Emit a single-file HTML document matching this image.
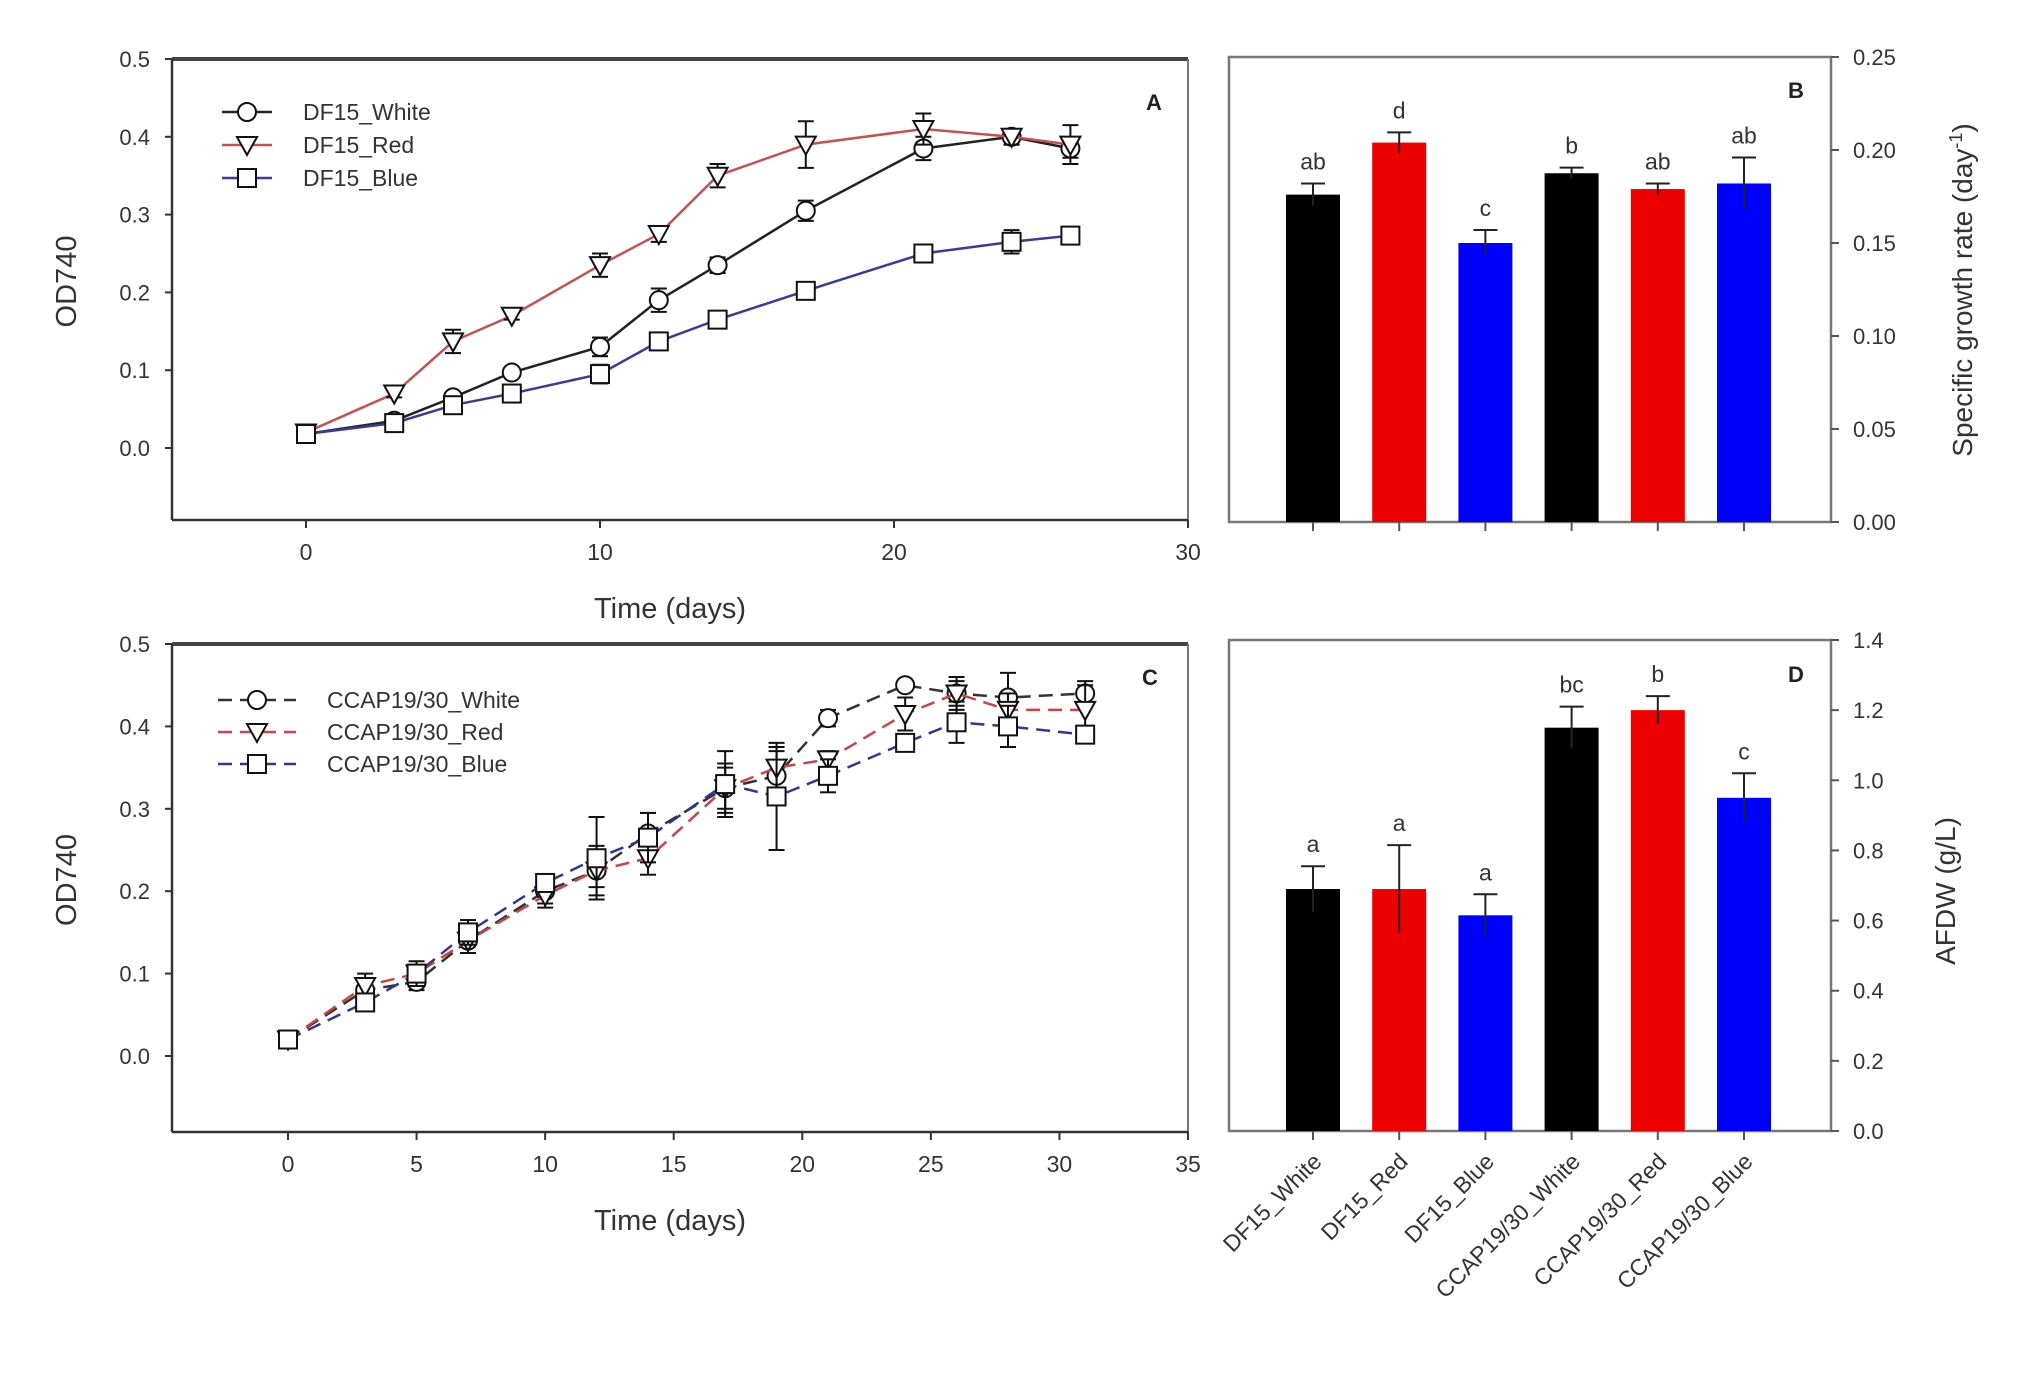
<!DOCTYPE html>
<html><head><meta charset="utf-8"><style>
html,body{margin:0;padding:0;background:#fff;}
svg{display:block;font-family:"Liberation Sans",Arial,sans-serif;}
</style></head><body>
<svg id="fig" width="2024" height="1400" viewBox="0 0 2024 1400"></svg>
<script>
// ---------- Panel A data ----------
const daysA = [0,3,5,7,10,12,14,17,21,24,26];
const aWhite = [0.018,0.035,0.065,0.097,0.13,0.19,0.235,0.305,0.385,0.40,0.385];
const aWhiteErr = [0.005,0.005,0.005,0.005,0.012,0.015,0.01,0.013,0.015,0.01,0.012];
const aRed = [0.02,0.07,0.137,0.17,0.235,0.275,0.35,0.39,0.41,0.40,0.39];
const aRedErr = [0.005,0.005,0.015,0.005,0.015,0.01,0.015,0.03,0.02,0.01,0.025];
const aBlue = [0.018,0.032,0.055,0.07,0.095,0.137,0.165,0.202,0.25,0.265,0.273];
const aBlueErr = [0.005,0.005,0.008,0.01,0.012,0.005,0.007,0.005,0.01,0.015,0.01];
const xTicksA = [0,10,20,30];
const yTicksLine = [0.0,0.1,0.2,0.3,0.4,0.5];
// ---------- Panel C data ----------
const daysC = [0,3,5,7,10,12,14,17,19,21,24,26,28,31];
const cWhite = [0.02,0.08,0.09,0.14,0.2,0.225,0.27,0.325,0.34,0.41,0.45,0.44,0.435,0.44];
const cWhiteErr = [0.005,0.01,0.01,0.015,0.015,0.02,0.025,0.03,0.03,0.01,0.005,0.015,0.03,0.015];
const cRed = [0.02,0.085,0.1,0.14,0.195,0.225,0.24,0.325,0.35,0.36,0.415,0.44,0.42,0.42];
const cRedErr = [0.005,0.015,0.015,0.015,0.015,0.03,0.02,0.025,0.025,0.01,0.02,0.02,0.02,0.03];
const cBlue = [0.02,0.065,0.1,0.15,0.21,0.24,0.265,0.33,0.315,0.34,0.38,0.405,0.40,0.39];
const cBlueErr = [0.005,0.005,0.01,0.015,0.01,0.05,0.03,0.04,0.065,0.02,0.01,0.025,0.025,0.01];
const xTicksC = [0,5,10,15,20,25,30,35];
// ---------- Bar data ----------
const categories = ["DF15_White","DF15_Red","DF15_Blue","CCAP19/30_White","CCAP19/30_Red","CCAP19/30_Blue"];
const growthRate = [0.176,0.204,0.150,0.1875,0.179,0.182];
const growthErr = [0.006,0.0055,0.007,0.003,0.003,0.014];
const growthLetters = ["ab","d","c","b","ab","ab"];
const afdw = [0.69,0.69,0.615,1.15,1.2,0.95];
const afdwErr = [0.065,0.125,0.06,0.06,0.04,0.07];
const afdwLetters = ["a","a","a","bc","b","c"];
const yTicksB = [0.00,0.05,0.10,0.15,0.20,0.25];
const yTicksD = [0.0,0.2,0.4,0.6,0.8,1.0,1.2,1.4];
const barColors = ["#000","#ee0000","#0000ff","#000","#ee0000","#0000ff"];

const NS="http://www.w3.org/2000/svg";
const svg=document.getElementById('fig');
function mk(tag,attrs,parent,name,inter){
  const e=document.createElementNS(NS,tag);
  for(const k in attrs) e.setAttribute(k,attrs[k]);
  
  
  (parent||svg).appendChild(e);return e;
}
function lin(d0,d1,r0,r1){return v=>r0+(v-d0)/(d1-d0)*(r1-r0);}

function marker(g,shape,x,y,name){
  if(shape==='circle') return mk('circle',{cx:x,cy:y,r:9,fill:'#fff',stroke:'#111','stroke-width':2},g,name);
  if(shape==='tri') return mk('polygon',{points:`${x-10},${y-8} ${x+10},${y-8} ${x},${y+10}`,fill:'#fff',stroke:'#111','stroke-width':2},g,name);
  return mk('rect',{x:x-9,y:y-9,width:18,height:18,fill:'#fff',stroke:'#111','stroke-width':2},g,name);
}

function linePanel(opt){
  const g=mk('g',{},svg,opt.id,false);
  const X=lin(0,opt.xmax,opt.x0,opt.R), Y=lin(0,0.5,opt.y0,opt.T);
  mk('line',{x1:opt.L,y1:opt.T,x2:opt.R,y2:opt.T,stroke:'#444','stroke-width':4},g,'top-border');
  mk('line',{x1:opt.R,y1:opt.T,x2:opt.R,y2:opt.B,stroke:'#777','stroke-width':2},g,'right-border');
  mk('line',{x1:opt.L,y1:opt.T,x2:opt.L,y2:opt.B,stroke:'#333','stroke-width':2.5},g,'y-axis');
  mk('line',{x1:opt.L,y1:opt.B,x2:opt.R,y2:opt.B,stroke:'#333','stroke-width':2.5},g,'x-axis');
  yTicksLine.forEach(t=>{
    const y=Y(t);
    mk('line',{x1:opt.L-7,y1:y,x2:opt.L,y2:y,stroke:'#333','stroke-width':2},g,'y-tick');
    const tx=mk('text',{x:opt.L-22,y:y+8,'text-anchor':'end','font-size':22,fill:'#333'},g,'y-tick-label');tx.textContent=t.toFixed(1);
  });
  opt.xt.forEach(t=>{
    const x=X(t);
    mk('line',{x1:x,y1:opt.B,x2:x,y2:opt.B+8,stroke:'#333','stroke-width':2},g,'x-tick');
    const tx=mk('text',{x:x,y:opt.B+40,'text-anchor':'middle','font-size':23,fill:'#333'},g,'x-tick-label');tx.textContent=t;
  });
  let t=mk('text',{x:(opt.L+opt.R)/2-10,y:opt.B+98,'text-anchor':'middle','font-size':29,fill:'#333'},g,'x-axis-title');t.textContent='Time (days)';
  t=mk('text',{x:0,y:0,'text-anchor':'middle','font-size':29,fill:'#333',transform:`translate(76,${(opt.T+opt.B)/2-8}) rotate(-90)`},g,'y-axis-title');t.textContent='OD740';
  t=mk('text',{x:opt.lx,y:opt.ly,'font-size':22,'font-weight':'bold',fill:'#222'},g,'panel-label');t.textContent=opt.label;
  opt.series.forEach((s,si)=>{
    const sg=mk('g',{},g,'series-'+s.key,false);
    const pts=opt.xs.map((d,i)=>X(d)+','+Y(s.v[i])).join(' ');
    mk('polyline',{points:pts,fill:'none',stroke:s.color,'stroke-width':2.5,'stroke-dasharray':opt.dash||'none'},sg,'line-'+s.key);
    opt.xs.forEach((d,i)=>{
      const x=X(d),y1=Y(s.v[i]+s.e[i]),y2=Y(s.v[i]-s.e[i]);
      mk('line',{x1:x,y1:y1,x2:x,y2:y2,stroke:'#111','stroke-width':2},sg,'error-bar');
      mk('line',{x1:x-8,y1:y1,x2:x+8,y2:y1,stroke:'#111','stroke-width':2},sg,'error-cap');
      mk('line',{x1:x-8,y1:y2,x2:x+8,y2:y2,stroke:'#111','stroke-width':2},sg,'error-cap');
    });
    opt.xs.forEach((d,i)=>marker(sg,s.shape,X(d),Y(s.v[i]),'point-'+s.key));
    const ly=opt.legY[si];
    const lg=mk('g',{},g,'legend-entry',false);
    mk('line',{x1:opt.legX[0],y1:ly,x2:opt.legX[1],y2:ly,stroke:s.color,'stroke-width':2.5,'stroke-dasharray':opt.dash||'none'},lg,'legend-line');
    marker(lg,s.shape,(opt.legX[0]+opt.legX[1])/2,ly,'legend-marker');
    const lt=mk('text',{x:opt.legText,y:ly+8,'font-size':23,fill:'#333'},lg,'legend-text');lt.textContent=s.name;
  });
}

linePanel({id:'panel-a',L:172,R:1188,T:59,B:520,y0:448,x0:306,xmax:30,xt:xTicksA,xs:daysA,lx:1146,ly:110,label:'A',
  legX:[222,272],legY:[112,145,178],legText:303,
  series:[{key:'white',name:'DF15_White',v:aWhite,e:aWhiteErr,color:'#222',shape:'circle'},
          {key:'red',name:'DF15_Red',v:aRed,e:aRedErr,color:'#c85050',shape:'tri'},
          {key:'blue',name:'DF15_Blue',v:aBlue,e:aBlueErr,color:'#3a3a9a',shape:'square'}]});

linePanel({id:'panel-c',L:172,R:1188,T:644,B:1132,y0:1056,x0:288,xmax:35,xt:xTicksC,xs:daysC,lx:1142,ly:685,label:'C',dash:'14,8',
  legX:[218,296],legY:[700,732,764],legText:327,
  series:[{key:'white',name:'CCAP19/30_White',v:cWhite,e:cWhiteErr,color:'#333',shape:'circle'},
          {key:'red',name:'CCAP19/30_Red',v:cRed,e:cRedErr,color:'#cc4444',shape:'tri'},
          {key:'blue',name:'CCAP19/30_Blue',v:cBlue,e:cBlueErr,color:'#333399',shape:'square'}]});

function barPanel(opt){
  const g=mk('g',{},svg,opt.id,false);
  const Y=lin(0,opt.ymax,opt.B,opt.T);
  mk('rect',{x:opt.L,y:opt.T,width:opt.R-opt.L,height:opt.B-opt.T,fill:'none',stroke:'#777','stroke-width':2.5},g,'plot-frame');
  opt.ticks.forEach(t=>{
    const y=Y(t);
    mk('line',{x1:opt.R,y1:y,x2:opt.R+8,y2:y,stroke:'#555','stroke-width':2},g,'y-tick');
    const tx=mk('text',{x:opt.R+22,y:y+8,'font-size':22,fill:'#333'},g,'y-tick-label');tx.textContent=t.toFixed(opt.dec);
  });
  opt.vals.forEach((v,i)=>{
    const x=opt.xAt(i);
    mk('rect',{x:x-27,y:Y(v),width:54,height:opt.B-Y(v),fill:barColors[i]},g,'bar-'+categories[i].toLowerCase().replace('/','-'));
    const ye=Y(v+opt.err[i]),yl=Y(v-opt.err[i]);
    mk('line',{x1:x,y1:ye,x2:x,y2:yl,stroke:'#222','stroke-width':2},g,'error-bar');
    mk('line',{x1:x-12,y1:ye,x2:x+12,y2:ye,stroke:'#222','stroke-width':2},g,'error-cap');
    const lt=mk('text',{x:x,y:ye-14,'text-anchor':'middle','font-size':23,fill:'#333'},g,'significance-letter');lt.textContent=opt.letters[i];
    mk('line',{x1:x,y1:opt.B,x2:x,y2:opt.B+9,stroke:'#555','stroke-width':2},g,'x-tick');
    if(opt.cats){
      const ct=mk('text',{x:0,y:0,'text-anchor':'end','font-size':23,fill:'#333',transform:`translate(${x+10},${opt.B+32}) rotate(-45)`},g,'x-tick-label');ct.textContent=categories[i];
    }
  });
  let t=mk('text',{x:opt.lx,y:opt.ly,'font-size':22,'font-weight':'bold',fill:'#222'},g,'panel-label');t.textContent=opt.label;
  t=mk('text',{x:0,y:0,'text-anchor':'middle','font-size':28,fill:'#333',transform:`translate(${opt.tx},${opt.ty}) rotate(-90)`},g,'y-axis-title');
  if(opt.sup){t.appendChild(document.createTextNode('Specific growth rate (day'));const s=document.createElementNS(NS,'tspan');s.setAttribute('dy','-10');s.setAttribute('font-size','18');s.textContent='-1';t.appendChild(s);const s2=document.createElementNS(NS,'tspan');s2.setAttribute('dy','10');s2.textContent=')';t.appendChild(s2);}
  else t.textContent=opt.title;
}
const catX=lin(0,5,1313,1744);
barPanel({id:'panel-b',L:1229,R:1831,T:57,B:522,ymax:0.25,ticks:yTicksB,dec:2,vals:growthRate,err:growthErr,letters:growthLetters,
  xAt:catX,lx:1788,ly:98,label:'B',tx:1972,ty:290,sup:true});
barPanel({id:'panel-d',L:1229,R:1831,T:640,B:1131,ymax:1.4,ticks:yTicksD,dec:1,vals:afdw,err:afdwErr,letters:afdwLetters,
  xAt:catX,lx:1788,ly:682,label:'D',tx:1955,ty:891,title:'AFDW (g/L)',cats:true});
</script>
</body></html>
